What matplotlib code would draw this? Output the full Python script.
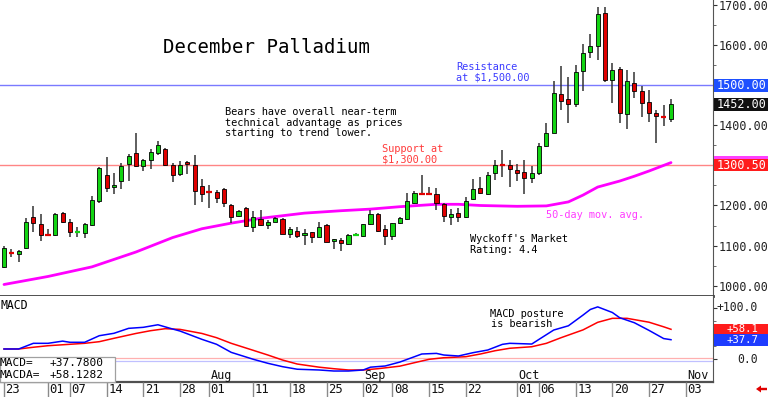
import math
import matplotlib
matplotlib.use('Agg')
import matplotlib.pyplot as plt
from matplotlib.patches import Rectangle, Polygon

W, H = 768, 397

# ---- data: trading-day index 0 = Jun 23, 2025 ----
opens  = [1047, 1082, 1079, 1093, 1171, 1153, 1127, 1126, 1181, 1158, 1132, 1131, 1151, 1212, 1276, 1245,
          1261, 1304, 1332, 1299, 1313, 1330, 1340, 1301, 1279, 1309, 1301, 1249, 1234, 1233, 1240, 1201,
          1175, 1195, 1147, 1166, 1151, 1160, 1166, 1129, 1137, 1126, 1133, 1122, 1152, 1112, 1114, 1104,
          1125, 1125, 1154, 1179, 1141, 1124, 1156, 1166, 1207, 1229, 1229, 1228, 1203, 1172, 1182, 1171,
          1215, 1243, 1228, 1280, 1302, 1301, 1289, 1284, 1268, 1280, 1349, 1382, 1478, 1465, 1453, 1535,
          1582, 1599, 1679, 1513, 1540, 1427, 1506, 1486, 1457, 1430, 1422, 1415]
highs  = [1099, 1091, 1090, 1170, 1199, 1179, 1142, 1181, 1184, 1166, 1146, 1156, 1224, 1297, 1320, 1280,
          1305, 1328, 1380, 1315, 1340, 1362, 1343, 1307, 1312, 1311, 1326, 1265, 1251, 1239, 1243, 1203,
          1189, 1196, 1186, 1189, 1164, 1172, 1168, 1146, 1146, 1141, 1135, 1160, 1154, 1117, 1120, 1128,
          1131, 1155, 1190, 1181, 1151, 1157, 1171, 1230, 1237, 1276, 1245, 1244, 1205, 1191, 1193, 1220,
          1265, 1272, 1284, 1313, 1338, 1313, 1303, 1313, 1299, 1355, 1406, 1510, 1548, 1521, 1550, 1603,
          1627, 1696, 1694, 1555, 1546, 1538, 1534, 1498, 1488, 1438, 1451, 1465]
lows   = [1045, 1071, 1060, 1092, 1133, 1112, 1124, 1125, 1156, 1121, 1122, 1118, 1149, 1205, 1234, 1229,
          1241, 1261, 1297, 1287, 1290, 1327, 1299, 1259, 1274, 1278, 1201, 1209, 1193, 1205, 1197, 1157,
          1171, 1147, 1135, 1149, 1141, 1158, 1129, 1118, 1120, 1101, 1107, 1121, 1108, 1092, 1087, 1101,
          1124, 1122, 1151, 1135, 1101, 1114, 1154, 1164, 1204, 1226, 1226, 1189, 1160, 1151, 1160, 1168,
          1214, 1229, 1226, 1264, 1272, 1247, 1261, 1228, 1257, 1276, 1347, 1380, 1438, 1406, 1446, 1486,
          1567, 1563, 1509, 1455, 1406, 1390, 1467, 1421, 1409, 1355, 1398, 1409]
closes = [1095, 1080, 1087, 1158, 1156, 1126, 1125, 1178, 1160, 1133, 1134, 1154, 1213, 1293, 1244, 1250,
          1299, 1323, 1298, 1313, 1333, 1350, 1300, 1275, 1302, 1303, 1237, 1228, 1232, 1218, 1205, 1172,
          1186, 1149, 1172, 1151, 1160, 1170, 1130, 1141, 1125, 1131, 1122, 1146, 1110, 1116, 1106, 1126,
          1127, 1153, 1179, 1137, 1125, 1156, 1168, 1211, 1230, 1227, 1227, 1205, 1175, 1179, 1171, 1212,
          1240, 1230, 1276, 1301, 1300, 1290, 1282, 1269, 1280, 1349, 1382, 1480, 1461, 1452, 1532, 1580,
          1598, 1677, 1513, 1538, 1430, 1510, 1486, 1456, 1430, 1423, 1420, 1452]

ma_idx = [0, 6, 12, 18, 23, 27, 31, 35, 41, 46, 50, 54, 59, 62, 65, 70, 74, 77, 79, 81, 84, 86, 88, 91]
ma_val = [1003, 1023, 1047, 1084, 1120, 1142, 1156, 1168, 1181, 1187, 1191, 1197, 1203, 1203, 1200, 1198,
          1199, 1209, 1226, 1246, 1261, 1273, 1286, 1307]

macd_idx = [0, 2, 4, 6, 8, 9, 11, 13, 15, 17, 19, 21, 23, 24, 27, 29, 31, 34, 36, 38, 40, 43, 45, 47, 49,
            50, 52, 54, 56, 57, 59, 60, 62, 64, 66, 68, 69, 72, 73, 75, 77, 79, 80, 81, 83, 84, 86, 88, 90, 91]
macd_val = [19.6, 19.6, 30.7, 30.7, 35, 32.7, 32.7, 45.6, 50.3, 60, 62, 67, 58.7, 54.8, 38.5, 28.8, 13,
            -0.5, -8.4, -15, -20, -21.5, -23.5, -23.5, -21.5, -16, -13.7, -6, 4.5, 9.8, 11, 7.8, 5.9, 12.4,
            17.6, 28.7, 30.7, 29.3, 38.5, 56.7, 65, 86, 97, 102, 91, 80.8, 71, 56, 40, 37.78]
sig_idx = [0, 2, 4, 6, 9, 11, 13, 15, 18, 20, 22, 24, 27, 29, 31, 34, 36, 38, 40, 43, 45, 47, 49, 51, 54,
           56, 58, 60, 63, 65, 67, 69, 72, 74, 76, 79, 81, 83, 85, 88, 90, 91]
sig_val = [19.6, 19.6, 23, 26, 28.8, 30.7, 33.9, 40.5, 50, 55.4, 59.3, 58, 50, 41.7, 30.7, 17, 7.8, -2,
           -9.8, -16, -19, -21.5, -21.5, -19, -14, -7.2, -0.6, 2.5, 4.5, 9.8, 16.2, 21, 24, 30.7, 41.7, 57,
           71.8, 79.6, 79.6, 72, 63, 58.13]

tick_idx = [0, 6, 9, 14, 19, 24, 28, 34, 39, 44, 49, 53, 58, 63, 70, 73, 78, 83, 88, 93]
tick_lbl = ['23', '01', '07', '14', '21', '28', '01', '11', '18', '25', '02', '08', '15', '22', '01', '06',
            '13', '20', '27', '03']
month_idx = [28, 49, 70, 93]
month_lbl = ['Aug', 'Sep', 'Oct', 'Nov']

resistance = 1500.0
support = 1300.5
last_price = 1452.0
macd_last = 37.78
macda_last = 58.1282

MONO = 'DejaVu Sans Mono'
GREEN = '#12d412'
RED = '#e00000'

fig = plt.figure(figsize=(W / 100, H / 100), dpi=100)
fig.patch.set_facecolor('white')

XL = (-0.546, 96.73)


def fy(py):
    return 1 - py / H


def ftext(x, y, s, **kw):
    kw.setdefault('va', 'baseline')
    kw.setdefault('family', MONO)
    return fig.text(x / W, fy(y), s, **kw)


def trunc1(v):
    return math.floor(v * 10) / 10


# ---------------- main price panel ----------------
ax = fig.add_axes([0, fy(296), 713 / W, 296 / H])
ax.set_xlim(*XL)
ax.set_ylim(974.3, 1712.5)
ax.set_facecolor('white')

ax.axhline(resistance, color='#7a7aff', lw=1.0, zorder=1)
ax.axhline(support, color='#ff8585', lw=1.0, zorder=1)
ax.plot(ma_idx, ma_val, color='#ff00ff', lw=2.0, zorder=2, solid_capstyle='round')

bw = 0.56
for i, (o, h, l, c) in enumerate(zip(opens, highs, lows, closes)):
    col = GREEN if c >= o else RED
    ax.vlines(i, l, h, color='#333333', lw=1.1, zorder=3)
    if abs(c - o) < 4:
        ax.hlines((o + c) / 2, i - 0.38, i + 0.38, color=col, lw=1.6, zorder=4)
    else:
        ax.add_patch(Rectangle((i - bw / 2, min(o, c)), bw, abs(c - o), facecolor=col,
                               edgecolor='black', lw=0.6, zorder=4))

for s in ['left', 'top']:
    ax.spines[s].set_visible(False)
ax.spines['right'].set_color('#555555')
ax.spines['bottom'].set_color('#404040')
ax.spines['bottom'].set_linewidth(2.0)
ax.set_xticks([])
ax.yaxis.tick_right()
yt = list(range(1000, 1701, 100))
ax.set_yticks(yt)
# 1300 and 1500 labels are hidden under the value boxes in the reference
ax.set_yticklabels(['' if v in (1300, 1500) else f'{v:.2f}' for v in yt])
ax.set_yticks(list(range(1050, 1700, 100)), minor=True)
ax.tick_params(axis='y', which='major', length=3, pad=1, labelsize=8.5, colors='#333333',
               labelcolor='#222222')
ax.tick_params(axis='y', which='minor', length=2, colors='#555555')
for t in ax.get_yticklabels():
    t.set_family(MONO)

# ---------------- MACD panel ----------------
am = fig.add_axes([0, fy(382), 713 / W, 86 / H])
am.set_xlim(*XL)
am.set_ylim(-45, 123.3)
am.axhline(1.2, color='#ffb0b0', lw=0.9)
am.axhline(-3.3, color='#c0c0ff', lw=0.9)
am.plot(sig_idx, sig_val, color='#ff0000', lw=1.1)
am.plot(macd_idx, macd_val, color='#0000ff', lw=1.1)
for s in ['left', 'top']:
    am.spines[s].set_visible(False)
am.spines['right'].set_color('#555555')
am.spines['bottom'].set_color('#505050')
am.spines['bottom'].set_linewidth(1.6)
am.set_xticks([])
am.yaxis.tick_right()
am.set_yticks([0, 50, 100])
am.set_yticks([25, 75], minor=True)
am.set_yticklabels([])
am.tick_params(axis='y', which='major', length=3, colors='#333333')
am.tick_params(axis='y', which='minor', length=2, colors='#555555')
for mi, ml in zip(month_idx, month_lbl):
    am.text(mi + 0.15, -38.5, ml, family=MONO, fontsize=8.5, va='baseline', ha='left', color='#111111')

# ---------------- bottom date row ----------------
ab = fig.add_axes([0, 0, 713 / W, 15 / H])
ab.set_xlim(*XL)
ab.set_ylim(0, 1)
ab.axis('off')
for ti, tl in zip(tick_idx, tick_lbl):
    ab.vlines(ti, 0, 1, color='#8a8a8a', lw=1.0)
    ab.text(ti + 0.2, 0.27, tl, family=MONO, fontsize=8.8, va='baseline', ha='left', color='#111111')

# ---------------- texts ----------------
ftext(163, 52.7, 'December Palladium', fontsize=13.7, color='black')
ann = 7.4
ftext(225, 115, 'Bears have overall near-term', fontsize=ann)
ftext(225, 125.8, 'technical advantage as prices', fontsize=ann)
ftext(225, 136.5, 'starting to trend lower.', fontsize=ann)
ftext(456.5, 70.5, 'Resistance', fontsize=ann, color='#3c3cff')
ftext(456.5, 80.8, 'at $1,500.00', fontsize=ann, color='#3c3cff')
ftext(382, 152, 'Support at', fontsize=ann, color='#ff3a3a')
ftext(382, 162.5, '$1,300.00', fontsize=ann, color='#ff3a3a')
ftext(546.5, 218, '50-day mov. avg.', fontsize=ann, color='#ff3cff')
ftext(470, 242.5, "Wyckoff's Market", fontsize=ann)
ftext(470, 253, 'Rating: 4.4', fontsize=ann)
ftext(490, 316.8, 'MACD posture', fontsize=ann)
ftext(491, 327.3, 'is bearish', fontsize=ann)
ftext(0.5, 309, 'MACD', fontsize=8.3)

# MACD values box
fig.patches.append(Rectangle((0, fy(381.7)), 115 / W, 25 / H, transform=fig.transFigure,
                             facecolor='white', edgecolor='#a0a0a0', lw=0.9, zorder=1))
ftext(0, 366.5, 'MACD=', fontsize=8.0, zorder=3)
ftext(50, 366.5, f'{macd_last:+.4f}', fontsize=8.0, zorder=3)
ftext(0, 377.5, 'MACDA=', fontsize=8.0, zorder=3)
ftext(50, 377.5, f'{macda_last:+.4f}', fontsize=8.0, zorder=3)


# right-axis value boxes
def pbox(yc, h, color, z=1):
    fig.patches.append(Rectangle((714 / W, fy(yc + h / 2)), 54 / W, h / H, transform=fig.transFigure,
                                 facecolor=color, edgecolor='none', zorder=z))


def price_y(p):
    return 296 - (p - 974.3) / (1712.5 - 974.3) * 296


def macd_y(v):
    return 382 - (v + 45) / (123.3 + 45) * 86


pbox(price_y(resistance), 12.6, '#1e50ff')
ftext(717, price_y(resistance), f'{resistance:.2f}', fontsize=8.5, color='white', va='center', zorder=3)
pbox(price_y(last_price), 12.6, '#111111')
ftext(717, price_y(last_price), f'{last_price:.2f}', fontsize=8.5, color='white', va='center', zorder=3)
pbox(price_y(ma_val[-1]), 12.6, '#ff40ff')
pbox(price_y(support), 12.4, '#ff1c1c', z=2)
ftext(717, price_y(support), f'{support:.2f}', fontsize=8.5, color='white', va='center', zorder=3)

ftext(758, macd_y(100), '+100.0', fontsize=8.3, ha='right', va='center', color='#222222')
ftext(758, macd_y(0), '0.0', fontsize=8.3, ha='right', va='center', color='#222222')
pbox(macd_y(macda_last) - 0.5, 10.5, '#ff1c1c')
ftext(758, macd_y(macda_last) - 0.8, f'{trunc1(macda_last):+.1f}', fontsize=7.7, ha='right', va='center',
      color='white', zorder=3)
pbox(macd_y(macd_last) + 0.2, 11.6, '#1e3cff')
ftext(758, macd_y(macd_last) + 0.6, f'{trunc1(macd_last):+.1f}', fontsize=7.7, ha='right', va='center',
      color='white', zorder=3)

# small red arrow bottom-right
arrow_px = [(756, 389), (761, 385.5), (761, 387.8), (767, 387.8), (767, 390.2), (761, 390.2), (761, 392.5)]
fig.patches.append(Polygon([(x / W, fy(y)) for x, y in arrow_px], closed=True, transform=fig.transFigure,
                           facecolor='#e00000', edgecolor='none'))

fig.savefig('out.png', dpi=100)
